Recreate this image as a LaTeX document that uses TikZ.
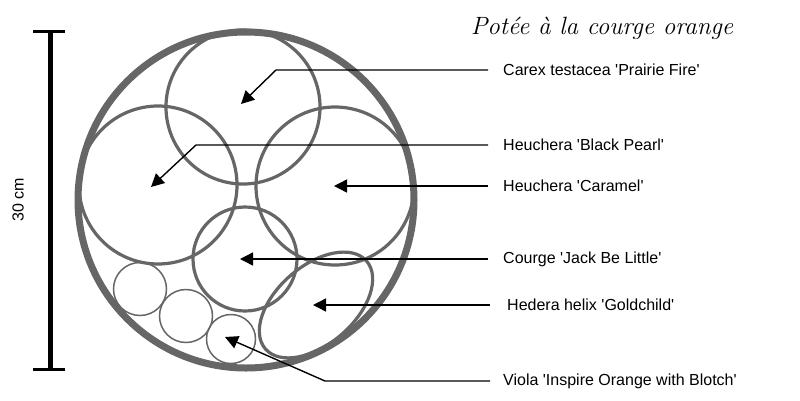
\documentclass[tikz,border=0pt]{standalone}
\usepackage{fontspec}
\setmainfont{Liberation Sans}
\newfontfamily\titlefont{Latin Modern Roman}
\usetikzlibrary{arrows.meta}
\definecolor{potgray}{HTML}{666666}
\newcommand\sq{\textquotesingle}
\tikzset{
  pot/.style={draw=potgray, line width=7pt},
  plantbig/.style={draw=potgray, line width=3.2pt},
  plantsmall/.style={draw=potgray, line width=1.5pt},
  leader/.style={draw=black, line width=1.4pt, -{Triangle[length=13pt,width=13pt]}},
  lbl/.style={anchor=west, font=\fontsize{16}{19}\selectfont, inner sep=0pt},
  bar/.style={draw=black, line width=5pt},
  barcap/.style={draw=black, line width=3pt}
}
\begin{document}
\begin{tikzpicture}[x=1pt,y=-1pt]
\useasboundingbox (0,0) rectangle (800,400);
% pot
\node[pot, circle, minimum size=336pt, inner sep=0pt] (pot) at (246,200) {};
% plants
\node[plantbig, circle, minimum size=154pt, inner sep=0pt] (carex) at (243,107) {};
\node[plantbig, circle, minimum size=158pt, inner sep=0pt] (pearl) at (158,185) {};
\node[plantbig, circle, minimum size=158pt, inner sep=0pt] (caramel) at (335,186) {};
\node[plantbig, circle, minimum size=104pt, inner sep=0pt] (courge) at (245,259) {};
\node[plantsmall, circle, minimum size=53pt, inner sep=0pt] (viola1) at (140,289) {};
\node[plantsmall, circle, minimum size=53pt, inner sep=0pt] (viola2) at (186,316) {};
\node[plantsmall, circle, minimum size=49pt, inner sep=0pt] (viola3) at (231,339) {};
\draw[plantbig, rotate around={41:(316,305)}] (316,305) ellipse [x radius=67pt, y radius=39pt];
\coordinate (hedera) at (316,305);
% scale bar
\coordinate (bartop) at (50,31);
\coordinate (barbot) at (50,369);
\draw[bar] (bartop) -- (barbot);
\draw[barcap] ([xshift=-17pt]bartop) -- ([xshift=15pt]bartop);
\draw[barcap] ([xshift=-17pt]barbot) -- ([xshift=15pt]barbot);
\node[rotate=90, font=\fontsize{16}{19}\selectfont] (scale) at (18,200) {30 cm};
% title
\node[font=\titlefont\itshape\fontsize{25}{30}\selectfont] (title) at (602,28) {Potée à la courge orange};
% labels
\node[lbl] (l1) at (503,70) {Carex testacea \sq Prairie Fire\sq};
\node[lbl] (l2) at (503,145) {Heuchera \sq Black Pearl\sq};
\node[lbl] (l3) at (503,186) {Heuchera \sq Caramel\sq};
\node[lbl] (l4) at (503,259) {Courge \sq Jack Be Little\sq};
\node[lbl] (l5) at (507,305) {Hedera helix \sq Goldchild\sq};
\node[lbl] (l6) at (503,381) {Viola \sq Inspire Orange with Blotch\sq};
% arrow tips
\coordinate (t1) at (241,104);
\coordinate (t2) at (151,187);
\coordinate (t3) at (334,186);
\coordinate (t4) at (240,259);
\coordinate (t5) at (313,305);
\coordinate (t6) at (225,337);
\coordinate (s1) at (488,70);
\coordinate (s2) at (488,145);
\coordinate (s3) at (488,186);
\coordinate (s4) at (488,259);
\coordinate (s5) at (490,305);
\coordinate (s6) at (490,381);
\draw[leader] (s1) -- (276,70) -- (t1);
\draw[leader] (s2) -- (196,145) -- (t2);
\draw[leader] (s3) -- (t3);
\draw[leader] (s4) -- (t4);
\draw[leader] (s5) -- (t5);
\draw[leader] (s6) -- (325,381) -- (t6);
\end{tikzpicture}
\end{document}
